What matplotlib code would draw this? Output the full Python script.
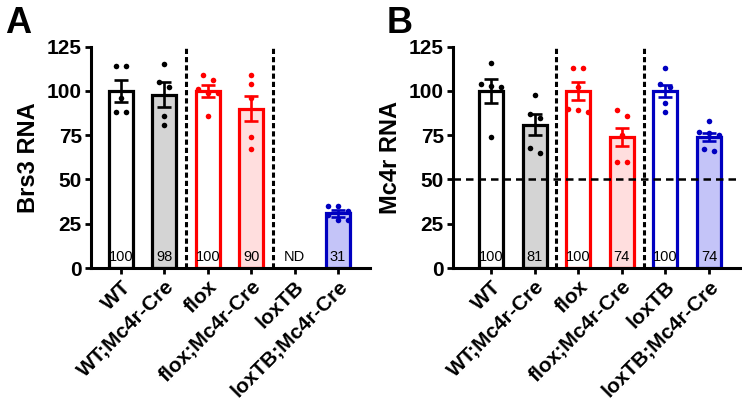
import numpy as np
import matplotlib
matplotlib.use("Agg")
import matplotlib.pyplot as plt
from matplotlib import font_manager

plt.rcParams['font.family'] = ['Liberation Sans', 'DejaVu Sans']

groups = ['WT', 'WT;Mc4r-Cre', 'flox', 'flox;Mc4r-Cre', 'loxTB', 'loxTB;Mc4r-Cre']

# Panel A: Brs3 RNA
brs3_mean = [100, 98, 100, 90, np.nan, 31]
brs3_sem = [6.0, 6.8, 3.5, 7.0, np.nan, 2.0]
brs3_labels = ['100', '98', '100', '90', 'ND', '31']
brs3_dots = [
    [114, 114, 96, 88, 88],
    [115, 105, 102, 86, 81],
    [109, 106, 101, 99, 99, 86],
    [109, 104, 96, 74, 67],
    [],
    [35, 35, 32, 30, 27, 27],
]

# Panel B: Mc4r RNA
mc4r_mean = [100, 81, 100, 74, 100, 74]
mc4r_sem = [6.6, 6.0, 5.0, 5.0, 3.5, 2.5]
mc4r_labels = ['100', '81', '100', '74', '100', '74']
mc4r_dots = [
    [116, 104, 103, 102, 74],
    [98, 87, 85, 68, 65],
    [113, 113, 102, 90, 89, 88],
    [89, 86, 75, 60, 60],
    [113, 104, 102, 93, 88],
    [83, 77, 76, 75, 67, 66],
]

edge_colors = ['black', 'black', '#ff0000', '#ff0000', '#0000c0', '#0000c0']
fill_colors = ['white', '#d4d4d4', 'white', '#ffdede', 'white', '#c4c4f8']

installed = {f.name for f in font_manager.fontManager.ttflist}
label_family = ['Liberation Sans Narrow', 'Liberation Sans'] \
    if 'Liberation Sans Narrow' in installed else ['Liberation Sans']

W, H = 742, 411
bottom = 1 - 268 / H
height = (268 - 46.7) / H


def swarm_offsets(vals, thresh=3.0, step=0.23):
    vals = np.asarray(vals, dtype=float)
    order = np.argsort(-vals)
    offs = np.zeros(len(vals))
    groups_ = []
    cur = []
    for idx in order:
        if cur and abs(vals[cur[0]] - vals[idx]) > thresh:
            groups_.append(cur)
            cur = []
        cur.append(idx)
    if cur:
        groups_.append(cur)
    for g in groups_:
        n = len(g)
        for k, idx in enumerate(g):
            offs[idx] = (k - (n - 1) / 2) * step
    return offs


def draw_panel(ax, means, sems, labels, dots, ylabel, xlim, hline=None):
    x = np.arange(len(groups))
    lw = 2.3
    for i in range(len(groups)):
        if np.isnan(means[i]):
            continue
        ax.bar(x[i], means[i], width=0.55, color=fill_colors[i],
               edgecolor=edge_colors[i], linewidth=lw, zorder=2)
        ax.errorbar(x[i], means[i], yerr=sems[i], fmt='none',
                    ecolor=edge_colors[i], elinewidth=1.9, capsize=5,
                    capthick=1.9, zorder=3)
        d = dots[i]
        offs = swarm_offsets(d)
        ax.scatter(x[i] + offs, d, s=16, color=edge_colors[i],
                   zorder=4, linewidths=0)
    for i in range(len(groups)):
        ax.text(x[i], 6.2, labels[i], ha='center', va='center',
                fontsize=10.5, color='black', zorder=5, family=label_family)
    for xv in (1.5, 3.5):
        ax.plot([xv, xv], [0, 125], color='black', lw=2.2,
                linestyle=(0, (1.7, 1.0)), zorder=1, clip_on=False)
    if hline is not None:
        ax.axhline(hline, color='black', lw=1.8,
                   linestyle=(0, (3.0, 2.0)), zorder=5)
    ax.set_xlim(*xlim)
    ax.set_ylim(0, 125)
    ax.set_yticks([0, 25, 50, 75, 100, 125])
    ax.set_xticks(x)
    ax.set_xticklabels(groups, rotation=45, ha='right',
                       rotation_mode='anchor', fontsize=15,
                       fontweight='bold')
    for lab in ax.get_yticklabels():
        lab.set_fontsize(15)
        lab.set_fontweight('bold')
    ax.set_ylabel(ylabel, fontsize=17, fontweight='bold', labelpad=5)
    for s in ('top', 'right'):
        ax.spines[s].set_visible(False)
    for s in ('left', 'bottom'):
        ax.spines[s].set_linewidth(2.2)
    ax.tick_params(axis='both', width=2.0, length=4.5, pad=2)


fig = plt.figure(figsize=(W / 100, H / 100), dpi=100)
axA = fig.add_axes([91 / W, bottom, (370 - 91) / W, height])
axB = fig.add_axes([453 / W, bottom, (740 - 453) / W, height])

draw_panel(axA, brs3_mean, brs3_sem, brs3_labels, brs3_dots, 'Brs3 RNA',
           (-0.69, 5.74))
draw_panel(axB, mc4r_mean, mc4r_sem, mc4r_labels, mc4r_dots, 'Mc4r RNA',
           (-0.87, 5.71), hline=50)

fig.text(5 / W, 1 - 33 / H, 'A', fontsize=26, fontweight='bold',
         ha='left', va='baseline')
fig.text(387 / W, 1 - 33 / H, 'B', fontsize=26, fontweight='bold',
         ha='left', va='baseline')

fig.savefig('out.png', dpi=100)
